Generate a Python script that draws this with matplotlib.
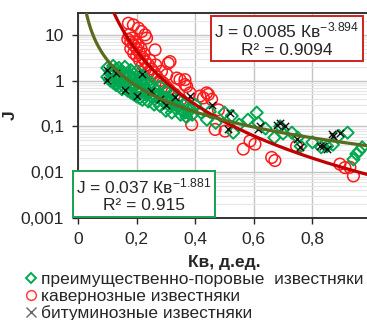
import matplotlib
matplotlib.use("Agg")
import matplotlib.pyplot as plt
from matplotlib.lines import Line2D
from matplotlib.patches import Rectangle
import numpy as np

plt.rcParams["font.family"] = ["Liberation Sans", "DejaVu Sans"]
plt.rcParams["mathtext.fontset"] = "custom"
plt.rcParams["mathtext.rm"] = "Liberation Sans"
plt.rcParams["mathtext.it"] = "Liberation Sans:italic"

# --- data ---
# преимущественно-поровые известняки (green diamonds)
pore_kv = [0.10, 0.10, 0.11, 0.11, 0.12, 0.12, 0.12, 0.13, 0.13, 0.13, 0.14, 0.14, 0.14,
           0.15, 0.15, 0.15, 0.16, 0.16, 0.16, 0.17, 0.17, 0.17, 0.18, 0.18, 0.18, 0.19,
           0.19, 0.19, 0.20, 0.20, 0.20, 0.21, 0.21, 0.21, 0.22, 0.22, 0.22, 0.23, 0.23,
           0.24, 0.24, 0.25, 0.25, 0.26, 0.26, 0.27, 0.27, 0.28, 0.28, 0.29, 0.30, 0.30,
           0.31, 0.32, 0.32, 0.33, 0.34, 0.35, 0.36, 0.37, 0.38, 0.39, 0.40,
           0.115, 0.125, 0.135, 0.145, 0.155, 0.165, 0.175, 0.185, 0.195, 0.205,
           0.215, 0.225, 0.235, 0.245, 0.255, 0.265, 0.275, 0.285, 0.295, 0.305,
           0.315, 0.325, 0.335, 0.345, 0.355, 0.365, 0.375,
           0.42, 0.44, 0.45, 0.47, 0.50, 0.525, 0.53, 0.55, 0.58, 0.61, 0.615, 0.64,
           0.67, 0.69, 0.70, 0.73, 0.75, 0.76, 0.80, 0.83, 0.85, 0.87, 0.89, 0.92,
           0.94, 0.95, 0.96, 0.97]
pore_j = [1.9, 1.2, 1.6, 1.0, 2.1, 1.4, 0.9, 1.8, 1.2, 0.8, 1.9, 1.3, 0.75,
          1.6, 1.0, 0.65, 2.0, 1.2, 0.7, 1.5, 0.95, 0.6, 1.7, 1.1, 0.55, 1.4,
          0.8, 0.5, 1.6, 0.9, 0.45, 1.2, 0.7, 0.42, 1.3, 0.6, 0.38, 1.0, 0.5,
          0.8, 0.35, 0.9, 0.45, 0.7, 0.3, 0.6, 0.35, 0.75, 0.28, 0.45, 0.6, 0.22,
          0.35, 0.5, 0.2, 0.3, 0.4, 0.18, 0.3, 0.16, 0.25, 0.18, 0.3,
          1.3, 1.6, 1.0, 1.5, 1.3, 0.85, 1.25, 0.75, 1.1, 0.65,
          0.95, 0.8, 0.62, 0.55, 0.5, 0.45, 0.5, 0.38, 0.33, 0.42,
          0.27, 0.33, 0.24, 0.28, 0.22, 0.2, 0.2,
          0.2, 0.14, 0.21, 0.12, 0.2, 0.17, 0.073, 0.11, 0.14, 0.2, 0.12, 0.09,
          0.057, 0.10, 0.07, 0.073, 0.057, 0.037, 0.045, 0.035, 0.037, 0.04, 0.062, 0.073,
          0.019, 0.025, 0.029, 0.035]

# кавернозные известняки (red circles)
cav_kv = [0.17, 0.175, 0.18, 0.18, 0.19, 0.19, 0.20, 0.20, 0.21, 0.21, 0.22, 0.22, 0.23,
          0.23, 0.24, 0.24, 0.25, 0.25, 0.26, 0.27, 0.28, 0.29, 0.30, 0.31, 0.32, 0.33,
          0.34, 0.35, 0.185, 0.195, 0.205, 0.215, 0.225, 0.245, 0.265, 0.285,
          0.172, 0.189, 0.206, 0.217, 0.229, 0.234, 0.263, 0.314, 0.303, 0.337, 0.365,
          0.371, 0.308, 0.348, 0.365, 0.382, 0.416, 0.439, 0.456, 0.388, 0.468, 0.445,
          0.428, 0.479, 0.502, 0.564, 0.587, 0.604, 0.661, 0.746, 0.894, 0.911, 0.94,
          0.928, 0.672]
cav_j = [8.0, 10, 7, 5, 6, 4, 5, 3.5, 4, 2.8, 3.2, 2.2, 2.6,
         1.8, 2.2, 1.5, 1.8, 1.3, 1.5, 1.2, 1.0, 0.9, 0.75, 0.65, 0.55, 0.5,
         0.42, 0.38, 8.5, 7.0, 6.0, 5.0, 3.8, 2.8, 2.2, 1.6,
         17.9, 16.5, 14, 11.8, 10, 8.5, 4.7, 2.6, 1.35, 1.14, 1.05,
         0.75, 2.4, 1.05, 0.82, 0.54, 0.46, 0.54, 0.39, 0.11, 0.086, 0.50,
         0.42, 0.23, 0.079, 0.032, 0.048, 0.041, 0.021, 0.037, 0.015, 0.0126, 0.0083,
         0.0128, 0.018]

# битуминозные известняки (black crosses)
bit_kv = [0.10, 0.10, 0.13, 0.16, 0.20, 0.22, 0.25, 0.28, 0.30, 0.33,
          0.382, 0.456, 0.519, 0.513, 0.615, 0.621, 0.678, 0.689, 0.706, 0.746,
          0.758, 0.826, 0.837, 0.849, 0.866, 0.871, 0.894]
bit_j = [1.7, 1.05, 1.5, 0.64, 0.46, 1.4, 0.6, 0.4, 0.3, 0.45,
         0.46, 0.30, 0.2, 0.086, 0.086, 0.10, 0.11, 0.12, 0.10, 0.052,
         0.035, 0.037, 0.037, 0.032, 0.067, 0.062, 0.073]

# power-law trend lines J = a * Kв^b, with R²
cav_fit = (0.0085, -3.894, 0.9094)
pore_fit = (0.037, -1.881, 0.915)

xticks = [0, 0.2, 0.4, 0.6, 0.8, 1]
xtick_labels = ["0", "0,2", "0,4", "0,6", "0,8", "1"]
yticks = [0.001, 0.01, 0.1, 1, 10]
ytick_labels = ["0,001", "0,01", "0,1", "1", "10"]

W, H = 367, 320
fig = plt.figure(figsize=(W / 100, H / 100), dpi=100)
ax = fig.add_axes([78 / W, 1 - 218 / H, 293 / W, 205 / H])

text_color = "#262626"
red = "#ff1a1a"
green = "#00a84f"
fs = 12.5

ax.set_yscale("log")
ax.set_xlim(0, 1)
ax.set_ylim(0.001, 30)

ax.set_xticks(xticks)
ax.set_xticklabels(xtick_labels)
ax.set_yticks(yticks)
ax.set_yticklabels(ytick_labels)
ax.tick_params(axis="both", labelsize=fs, colors=text_color, length=4, width=1, pad=6)
ax.tick_params(axis="y", which="minor", length=0)
ax.yaxis.set_minor_locator(matplotlib.ticker.LogLocator(base=10, subs=np.arange(2, 10)))
ax.yaxis.set_minor_formatter(matplotlib.ticker.NullFormatter())

ax.grid(True, which="major", color="#c4c4c4", linewidth=1)
ax.grid(True, which="minor", axis="y", color="#e6e6e6", linewidth=0.8)
ax.set_axisbelow(True)
for side in ["left", "bottom", "top"]:
    ax.spines[side].set_color("#333333")
    ax.spines[side].set_linewidth(1.4)
ax.spines["right"].set_visible(False)

ax.scatter(cav_kv, cav_j, s=70, marker="o", facecolors="none", edgecolors=red,
           linewidths=1.1, zorder=3)
ax.scatter(pore_kv, pore_j, s=38, marker="D", facecolors="none", edgecolors=green,
           linewidths=1.4, zorder=4)
ax.scatter(bit_kv, bit_j, s=28, marker="x", color="#111111", linewidths=1.0, zorder=5)

xs = np.linspace(0.02, 1.0, 300)
a, b, _ = cav_fit
ax.plot(xs, a * xs ** b, color="#c00000", linewidth=2.3, zorder=6)
a, b, _ = pore_fit
ax.plot(xs, a * xs ** b, color="#5a6b20", linewidth=2.3, zorder=6)

ax.set_xlabel("Кв, д.ед.", fontsize=fs, fontweight="bold", color=text_color, labelpad=6)
ax.set_ylabel("J", fontsize=fs, fontweight="bold", color=text_color)
ax.yaxis.set_label_coords(-0.205, 0.5)


def fig_xy(px, py):
    return px / W, 1 - py / H


def eq_box(x0, y0, x1, y1, fit, edge):
    a, b, r2 = fit
    lx, ly = fig_xy(x0, y1)
    rect = Rectangle((lx, ly), (x1 - x0) / W, (y1 - y0) / H, transform=fig.transFigure,
                     facecolor="white", edgecolor=edge, linewidth=1.4, zorder=10)
    fig.patches.append(rect)
    cx = (x0 + x1) / 2
    h = y1 - y0
    bstr = f"{b:.3f}"
    fig.text(*fig_xy(cx, y0 + h * 0.33), f"J = {a:g} Кв$^{{{bstr}}}$", ha="center",
             va="center", fontsize=fs, color=text_color, zorder=11)
    fig.text(*fig_xy(cx, y0 + h * 0.76), f"R² = {r2:g}", ha="center", va="center",
             fontsize=fs, color=text_color, zorder=11)


eq_box(211, 16, 363, 61, cav_fit, "#d02020")
eq_box(73, 171, 215, 217, pore_fit, "#1aa050")

handles = [
    Line2D([], [], linestyle="none", marker="D", markersize=5, markerfacecolor="none",
           markeredgecolor=green, markeredgewidth=1.4),
    Line2D([], [], linestyle="none", marker="o", markersize=7, markerfacecolor="none",
           markeredgecolor="#ff4040", markeredgewidth=1.1),
    Line2D([], [], linestyle="none", marker="x", markersize=7, color="#666666",
           markeredgewidth=1.0),
]
labels = ["преимущественно-поровые  известняки", "кавернозные известняки",
          "битуминозные известняки"]
fig.legend(handles, labels, loc="upper left", bbox_to_anchor=fig_xy(24, 272),
           frameon=False, fontsize=fs, handlelength=0.8, handletextpad=0.2,
           borderpad=0, borderaxespad=0, labelspacing=0.09, labelcolor=text_color)

fig.savefig("out.png", dpi=100)
